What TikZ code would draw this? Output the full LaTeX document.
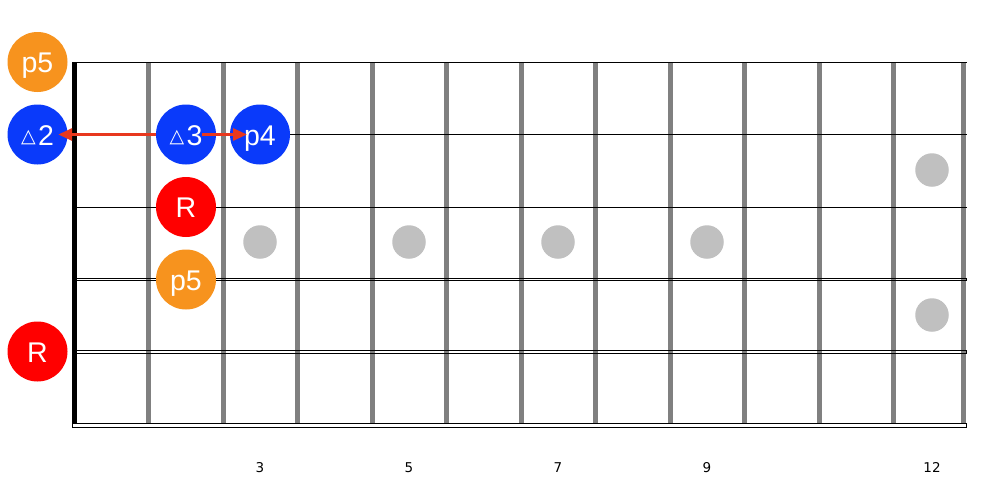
\documentclass[tikz,border=0pt]{standalone}
\usepackage{fontspec}
\setmainfont{Liberation Sans}
\newfontfamily\dejavu{DejaVu Sans}
\usetikzlibrary{arrows.meta}
\definecolor{fretgray}{RGB}{128,128,128}
\definecolor{dotgray}{RGB}{192,192,192}
\definecolor{noteorange}{RGB}{247,147,30}
\definecolor{noteblue}{RGB}{10,58,250}
\definecolor{notered}{RGB}{255,0,0}
\definecolor{arrowred}{RGB}{232,56,30}
\tikzset{
  fretline/.style={fretgray, line width=5pt},
  nutline/.style={black, line width=5pt},
  thinstring/.style={black, line width=1pt},
  woundstring/.style={black, line width=0.8pt},
  inlay/.style={circle, fill=dotgray, minimum size=33.5pt, inner sep=0pt},
  note/.style={circle, minimum size=60pt, inner sep=0pt, text=white,
    font=\fontsize{28.5}{28.5}\selectfont, text height=21pt, text depth=0pt},
  orangenote/.style={note, fill=noteorange},
  bluenote/.style={note, fill=noteblue},
  rednote/.style={note, fill=notered},
  fretnum/.style={font=\dejavu\fontsize{13.5}{13.5}\selectfont, text=black, inner sep=0pt},
  moveline/.style={arrowred, line width=3pt, -{Triangle[length=14pt,width=12pt]}},
}
\newcommand{\tri}{\raisebox{3pt}{\dejavu\bfseries\fontsize{19}{19}\selectfont △}\kern2.5pt}
\begin{document}
\begin{tikzpicture}[x=1pt,y=-1pt]
\useasboundingbox[fill=white] (0,0) rectangle (982,488);
% frets
\foreach \k in {0,...,10} {
  \draw[fretline] ({148.5+74.5*\k},62) -- ({148.5+74.5*\k},423.5);
}
\draw[fretline] (963.8,62) -- (963.8,423.5);
% nut
\draw[nutline] (74.2,62) -- (74.2,424);
% strings
\draw[thinstring] (72,62.3) -- (966.7,62.3);
\draw[thinstring] (72,134.5) -- (966.7,134.5);
\draw[thinstring] (72,207) -- (966.7,207);
\draw[woundstring] (72,278.4) rectangle (966.7,280.6);
\draw[woundstring] (72,350.2) rectangle (966.7,353.3);
\draw[woundstring] (72,423.4) rectangle (966.7,427.3);
% inlays
\node[inlay] (i3) at (260,242) {};
\node[inlay] (i5) at (409,242) {};
\node[inlay] (i7) at (558,242) {};
\node[inlay] (i9) at (707,242) {};
\node[inlay] (i12a) at (932,170) {};
\node[inlay] (i12b) at (932,315) {};
% fret numbers
\node[fretnum] (n3) at (260,467.5) {3};
\node[fretnum] (n5) at (409,467.5) {5};
\node[fretnum] (n7) at (558,467.5) {7};
\node[fretnum] (n9) at (707,467.5) {9};
\node[fretnum] (n12) at (932,467.5) {12};
% notes
\node[orangenote] (p5a) at (37.5,62) {p5};
\node[bluenote] (d2) at (37.5,134.5) {\tri2};
\node[rednote] (r1) at (186,207) {R};
\node[orangenote] (p5b) at (186,279.5) {p5};
\node[rednote] (r2) at (37.5,351.5) {R};
\node[bluenote] (p4) at (260,134.5) {p4};
% arrow to d2 (under d3)
\draw[moveline] (186,134.5) -- ([xshift=-9.5pt]d2.east);
\node[bluenote] (d3) at (186,134.5) {\tri3};
% arrow to p4 (over notes)
\draw[moveline] ([xshift=16pt]d3.center) -- ([xshift=-13pt]p4.center);
\end{tikzpicture}
\end{document}
